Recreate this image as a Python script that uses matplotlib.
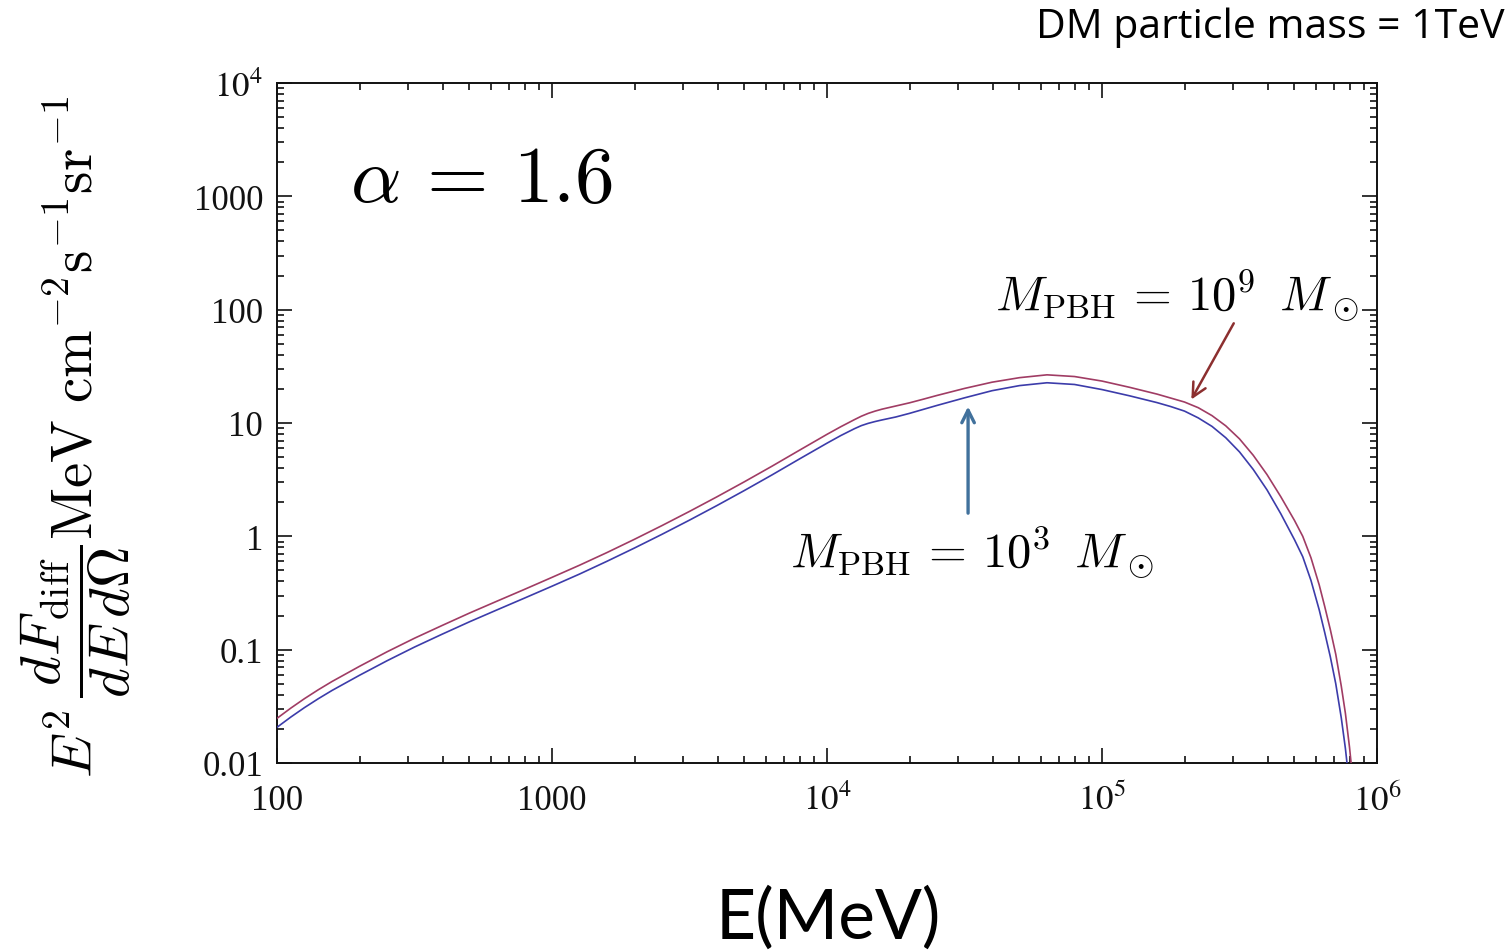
import numpy as np
import matplotlib
matplotlib.use("Agg")
import matplotlib.pyplot as plt
from matplotlib.ticker import LogLocator, FixedLocator, FixedFormatter, NullFormatter

plt.rcParams['mathtext.fontset'] = 'stix'
plt.rcParams['font.family'] = ['Liberation Serif', 'DejaVu Serif']

# log10(E / MeV) sampling
log_e = [2.0, 2.05, 2.1, 2.15, 2.2, 2.3, 2.4, 2.5, 2.6, 2.7,
         2.8, 2.9, 3.0, 3.1, 3.2, 3.3, 3.4, 3.5, 3.6, 3.7,
         3.8, 3.9, 4.0, 4.05, 4.1, 4.125, 4.15, 4.175, 4.2, 4.25,
         4.3, 4.35, 4.4, 4.5, 4.6, 4.7, 4.8, 4.9, 5.0, 5.1,
         5.2, 5.25, 5.3, 5.35, 5.4, 5.45, 5.5, 5.55, 5.6, 5.65,
         5.7, 5.73, 5.76, 5.79, 5.81, 5.83, 5.85, 5.87, 5.885, 5.9,
         5.91, 5.925]

# log10 of E^2 dF/dEdOmega, M_PBH = 1e9 Msun (red)
log_f_1e9 = [-1.606, -1.516, -1.432, -1.354, -1.281, -1.147, -1.019, -0.899, -0.787, -0.677,
             -0.572, -0.468, -0.362, -0.255, -0.143, -0.026, 0.095, 0.22, 0.349, 0.482,
             0.619, 0.76, 0.9, 0.967, 1.03, 1.06, 1.085, 1.105, 1.122, 1.15,
             1.178, 1.21, 1.243, 1.305, 1.36, 1.40, 1.425, 1.41, 1.37, 1.315,
             1.255, 1.22, 1.185, 1.135, 1.065, 0.975, 0.86, 0.715, 0.545, 0.35,
             0.14, 0.0, -0.19, -0.43, -0.62, -0.82, -1.04, -1.32, -1.56, -1.86,
             -2.1, -2.5]

# M_PBH = 1e3 Msun (blue)
log_f_1e3 = [-1.685, -1.595, -1.511, -1.433, -1.36, -1.226, -1.098, -0.977, -0.864, -0.754,
             -0.649, -0.545, -0.44, -0.333, -0.22, -0.103, 0.018, 0.143, 0.272, 0.405,
             0.542, 0.683, 0.822, 0.889, 0.95, 0.977, 0.997, 1.013, 1.027, 1.053,
             1.085, 1.12, 1.155, 1.222, 1.285, 1.33, 1.355, 1.34, 1.295, 1.24,
             1.18, 1.145, 1.105, 1.045, 0.97, 0.87, 0.745, 0.59, 0.41, 0.20,
             -0.03, -0.18, -0.39, -0.65, -0.85, -1.06, -1.30, -1.60, -1.87, -2.2,
             -2.45, -2.9]

x_ticks = [1e2, 1e3, 1e4, 1e5, 1e6]
x_labels = ['100', '1000', r'$10^4$', r'$10^5$', r'$10^6$']
y_ticks = [1e-2, 1e-1, 1, 10, 100, 1000, 1e4]
y_labels = ['0.01', '0.1', '1', '10', '100', '1000', r'$10^4$']

W, H = 1510, 953
fig = plt.figure(figsize=(W / 100, H / 100), dpi=100)

def fx(px):
    return px / W

def fy(py):
    return 1 - py / H

ax = fig.add_axes([fx(277), fy(764), fx(1377) - fx(277), fy(84) - fy(764)])

E = 10 ** np.array(log_e)
ax.plot(E, 10 ** np.array(log_f_1e9), color='#a03c64', lw=1.2, zorder=3)
ax.plot(E, 10 ** np.array(log_f_1e3), color='#3c3caa', lw=1.2, zorder=3)

ax.set_xscale('log')
ax.set_yscale('log')
ax.set_xlim(1e2, 1e6)
ax.set_ylim(1e-2, 1e4)

ax.xaxis.set_major_locator(FixedLocator(x_ticks))
ax.xaxis.set_major_formatter(FixedFormatter(x_labels))
ax.yaxis.set_major_locator(FixedLocator(y_ticks))
ax.yaxis.set_major_formatter(FixedFormatter(y_labels))
ax.xaxis.set_minor_locator(LogLocator(base=10, subs=np.arange(2, 10), numticks=20))
ax.yaxis.set_minor_locator(LogLocator(base=10, subs=np.arange(2, 10), numticks=20))
ax.xaxis.set_minor_formatter(NullFormatter())
ax.yaxis.set_minor_formatter(NullFormatter())

ax.tick_params(which='both', direction='in', top=True, right=True, width=1.2,
               colors='#111111', labelsize=25)
ax.tick_params(which='major', length=11)
ax.tick_params(which='minor', length=5)
ax.tick_params(axis='x', pad=15)
ax.tick_params(axis='y', pad=10)
for s in ax.spines.values():
    s.set_linewidth(1.4)
    s.set_color('#111111')

# annotations
fig.text(fx(350), fy(183), r'$\alpha\,=\,1.6$', fontsize=57, math_fontfamily='cm',
         va='center', ha='left')
fig.text(fx(995), fy(296), r'$M_{\rm PBH}\,=\,10^9\ \,M_\odot$', fontsize=35,
         math_fontfamily='cm', va='center', ha='left')
fig.text(fx(790), fy(553), r'$M_{\rm PBH}\,=\,10^3\ \,M_\odot$', fontsize=35,
         math_fontfamily='cm', va='center', ha='left')

ax.annotate('', xy=(10 ** 4.513, 10 ** 1.17), xytext=(10 ** 4.513, 10 ** 0.18),
            arrowprops=dict(arrowstyle='->,head_length=0.9,head_width=0.45',
                            color='#41719c', lw=2.4))
ax.annotate('', xy=(10 ** 5.32, 10 ** 1.186), xytext=(10 ** 5.484, 10 ** 1.901),
            arrowprops=dict(arrowstyle='->,head_length=1.0,head_width=0.5',
                            color='#8c2f2f', lw=1.8))

fig.text(fx(76), fy(437),
         r'$E^2\,\dfrac{dF_{\rm diff}}{dE\,d\Omega}{\rm MeV\ cm^{-2}s^{-1}sr^{-1}}$',
         fontsize=41, math_fontfamily='cm', rotation=90, va='center', ha='center')

fig.text(fx(1505), fy(28), 'DM particle mass = 1TeV', fontsize=29.5,
         family=['Open Sans', 'DejaVu Sans'], ha='right', va='center')
fig.text(fx(828), fy(918), 'E(MeV)', fontsize=50,
         family=['Lato', 'DejaVu Sans'], ha='center', va='center')

fig.savefig('out.png', dpi=100)
